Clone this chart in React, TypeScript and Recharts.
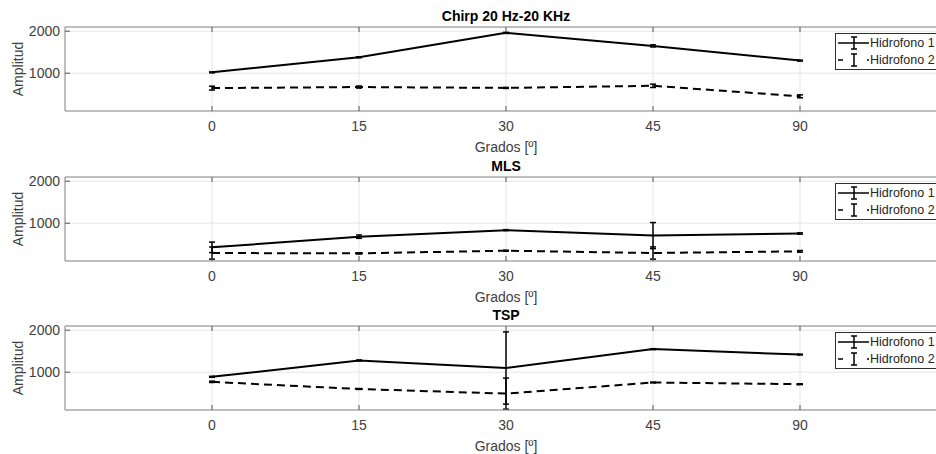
import React from 'react';
import {
  LineChart,
  Line,
  XAxis,
  YAxis,
  CartesianGrid,
  ErrorBar,
  Legend
} from 'recharts';

// angle positions (equally spaced categories) and their labels
const angleIndex = [1, 2, 3, 4, 5];
const angleLabels = ['0', '15', '30', '45', '90'];
const yTicks = [1000, 2000];
const legendNames = ['Hidrofono 1', 'Hidrofono 2'];

// Chirp 20 Hz-20 KHz
const chirpH1 = [1020, 1380, 1960, 1650, 1300];
const chirpH1Err = [12, 12, 12, 25, 12];
const chirpH2 = [645, 670, 650, 700, 450];
const chirpH2Err = [45, 25, 12, 40, 35];

// MLS
const mlsH1 = [425, 680, 835, 705, 755];
const mlsH1Err = [125, 40, 12, 310, 15];
const mlsH2 = [290, 282, 345, 290, 330];
const mlsH2Err = [145, 15, 12, 145, 20];

// TSP
const tspH1 = [890, 1280, 1100, 1550, 1420];
const tspH1Err = [12, 10, 860, 10, 10];
const tspH2 = [770, 600, 490, 755, 715];
const tspH2Err = [15, 10, 370, 10, 10];

const buildRows = (h1: number[], e1: number[], h2: number[], e2: number[]) =>
  angleIndex.map((x, i) => ({ x, h1: h1[i], e1: e1[i], h2: h2[i], e2: e2[i] }));

const axisColor = '#8a8a8a';
const textColor = '#404040';

const renderLegend = () => (
  <div style={{
    border: '1px solid #303030',
    background: '#fff',
    padding: '1px 3px 1px 2px',
    fontSize: 12.5,
    color: '#262626',
    whiteSpace: 'nowrap'
  }}>
    {legendNames.map((name, i) => (
      <div key={name} style={{ display: 'flex', alignItems: 'center', height: 16.5 }}>
        <svg width={32} height={16} style={{ flexShrink: 0 }}>
          <line x1={0} x2={31} y1={8} y2={8} stroke="#000" strokeWidth={1.5}
            strokeDasharray={i === 1 ? '5 24' : undefined} />
          <line x1={16} x2={16} y1={2} y2={14} stroke="#000" strokeWidth={1.5} />
          <line x1={13} x2={19} y1={2} y2={2} stroke="#000" strokeWidth={1.5} />
          <line x1={13} x2={19} y1={14} y2={14} stroke="#000" strokeWidth={1.5} />
        </svg>
        <span>{name}</span>
      </div>
    ))}
  </div>
);

const Panel = ({ title, rows, top }: { title: string; rows: any[]; top: number }) => (
  <div style={{ position: 'absolute', left: 0, top }}>
    <LineChart width={960} height={155} data={rows}
      margin={{ top: 26, right: 13, bottom: 5, left: 0 }}>
      <CartesianGrid stroke="#e6e6e6" />
      <XAxis
        xAxisId="top"
        orientation="top"
        type="number"
        dataKey="x"
        domain={[0, 6]}
        ticks={angleIndex}
        height={1}
        tickFormatter={() => ''}
        tickSize={-5}
        stroke={axisColor}
        tickLine={{ stroke: '#555' }}
        label={{ value: title, position: 'top', offset: 5, style: { fill: '#000', fontWeight: 'bold', fontSize: 14 } }}
      />
      <XAxis
        type="number"
        dataKey="x"
        domain={[0, 6]}
        ticks={angleIndex}
        allowDataOverflow
        height={39}
        tickFormatter={(v: number) => angleLabels[v - 1] ?? ''}
        tickSize={-5}
        tickMargin={15}
        stroke={axisColor}
        tickLine={{ stroke: '#555' }}
        tick={{ fill: textColor, fontSize: 14 }}
        label={{ value: 'Grados [º]', position: 'insideBottom', offset: -2, style: { fill: textColor, fontSize: 14 } }}
      />
      <YAxis
        type="number"
        domain={[100, 2100]}
        ticks={yTicks}
        allowDataOverflow
        width={65}
        tickSize={-5}
        tickMargin={10}
        stroke={axisColor}
        tickLine={{ stroke: '#555' }}
        tick={{ fill: textColor, fontSize: 14 }}
        label={{ value: 'Amplitud', angle: -90, position: 'insideLeft', offset: 18, style: { fill: textColor, fontSize: 14, textAnchor: 'middle' } }}
      />
      <Legend
        layout="horizontal"
        align="center"
        verticalAlign="middle"
        content={renderLegend}
        wrapperStyle={{ top: 33, left: 835, width: 'auto' }}
      />
      <Line dataKey="h1" name="Hidrofono 1" stroke="#000" strokeWidth={2} dot={false}
        isAnimationActive={false}>
        <ErrorBar dataKey="e1" width={3} strokeWidth={1.5} stroke="#000" direction="y" />
      </Line>
      <Line dataKey="h2" name="Hidrofono 2" stroke="#000" strokeWidth={2} dot={false}
        strokeDasharray="8 5" isAnimationActive={false}>
        <ErrorBar dataKey="e2" width={3} strokeWidth={1.5} stroke="#000" direction="y" />
      </Line>
    </LineChart>
  </div>
);

export default function App() {
  return (
    <div style={{
      position: 'fixed',
      left: 0,
      top: 0,
      width: 936,
      height: 454,
      overflow: 'hidden',
      background: '#fff',
      fontFamily: '"Liberation Sans", Arial, sans-serif'
    }}>
      <Panel title="Chirp 20 Hz-20 KHz" rows={buildRows(chirpH1, chirpH1Err, chirpH2, chirpH2Err)} top={0} />
      <Panel title="MLS" rows={buildRows(mlsH1, mlsH1Err, mlsH2, mlsH2Err)} top={150} />
      <Panel title="TSP" rows={buildRows(tspH1, tspH1Err, tspH2, tspH2Err)} top={299} />
    </div>
  );
}
